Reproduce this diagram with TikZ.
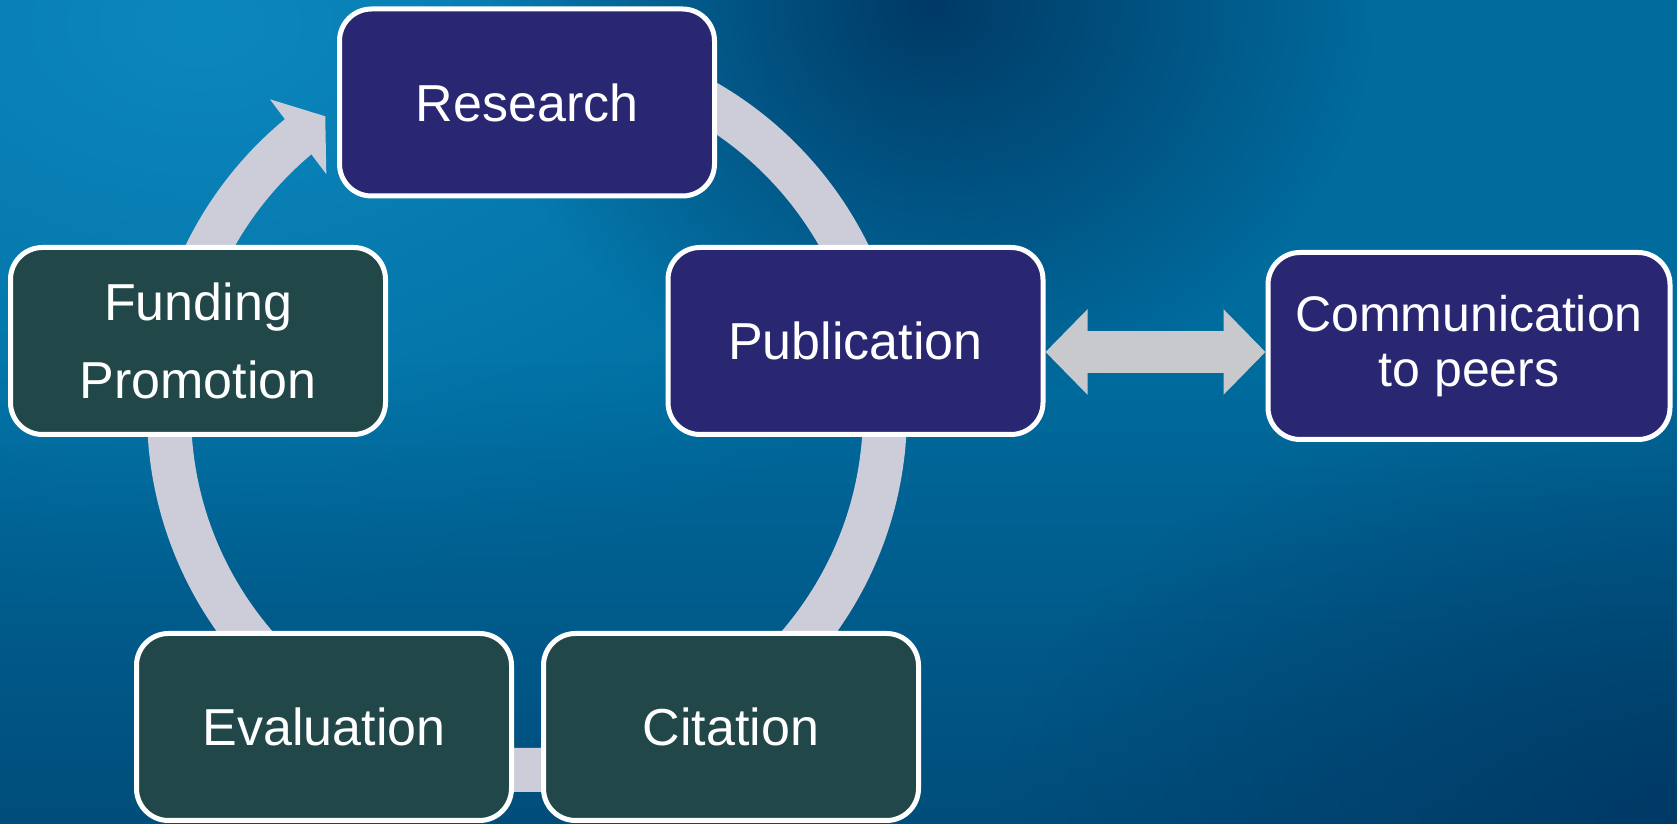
\documentclass[tikz,border=0pt]{standalone}
\usepackage{fontspec}
\setmainfont{Liberation Sans}
\usetikzlibrary{arrows.meta,bending,fadings,positioning}

\definecolor{navybox}{RGB}{41,38,114}
\definecolor{tealbox}{RGB}{33,71,72}
\definecolor{ringgray}{RGB}{205,205,217}
\definecolor{arrowgray}{RGB}{200,201,205}
\definecolor{seabase}{RGB}{0,108,158}
\definecolor{sealight}{RGB}{12,135,190}
\definecolor{seadark}{RGB}{0,52,95}

\tikzfading[name=fadeup, top color=transparent!100, bottom color=transparent!0]
\tikzfading[name=fadeblob, inner color=transparent!0, outer color=transparent!100]

\tikzset{
  stepbox/.style={draw=white, line width=2.5pt, rounded corners=16pt,
    minimum width=187.5pt, minimum height=93.5pt, align=center,
    text=white, font=\fontsize{26}{30}\selectfont},
  bluebox/.style={stepbox, fill=navybox},
  greenbox/.style={stepbox, fill=tealbox},
}

\begin{document}
\begin{tikzpicture}[x=0.5pt, y=0.5pt]
    \useasboundingbox (0,0) rectangle (1677,824);

    % Background
    \begin{scope}
        \clip (0,0) rectangle (1677,824);
        \fill[seabase] (0,0) rectangle (1677,824);
        \fill[sealight, path fading=fadeblob] (-700,200) rectangle (1100,1400);
        \fill[seadark, path fading=fadeblob, opacity=0.9] (480,420) rectangle (1380,1220);
        \fill[seadark, path fading=fadeup, opacity=0.55] (0,0) rectangle (1677,460);
        \fill[seadark, path fading=fadeblob, opacity=0.8] (1000,-450) rectangle (2400,450);
    \end{scope}

    % Cycle ring
    \coordinate (hub) at (527,412);
    \draw[ringgray, line width=22pt, -{Triangle[width=46pt, length=17pt]}]
        (hub) ++(90:358) arc[start angle=90, end angle=-235.7, radius=358];

    % Nodes
    \node[bluebox] (research) at (527,721.5) {Research};
    \node[bluebox] (publication) at (855.5,483) {Publication};
    \node[bluebox, minimum width=201pt, font=\fontsize{25}{27.5}\selectfont,
        right=110pt of publication, yshift=-2.5pt] (communication) {Communication\\to peers};
    \node[greenbox] (funding) at (198,483) {Funding\\[9pt]Promotion};
    \node[greenbox] (citation) at (731,97) {Citation};
    \node[greenbox, left=13.5pt of citation] (evaluation) {Evaluation};

    % Arrows
    \draw[arrowgray, line width=21pt,
        {Triangle[width=41.5pt, length=21pt]}-{Triangle[width=41.5pt, length=21pt]}]
        ([yshift=-5.5pt]publication.east) -- ([yshift=-5.5pt]publication.east -| communication.west);
\end{tikzpicture}
\end{document}
